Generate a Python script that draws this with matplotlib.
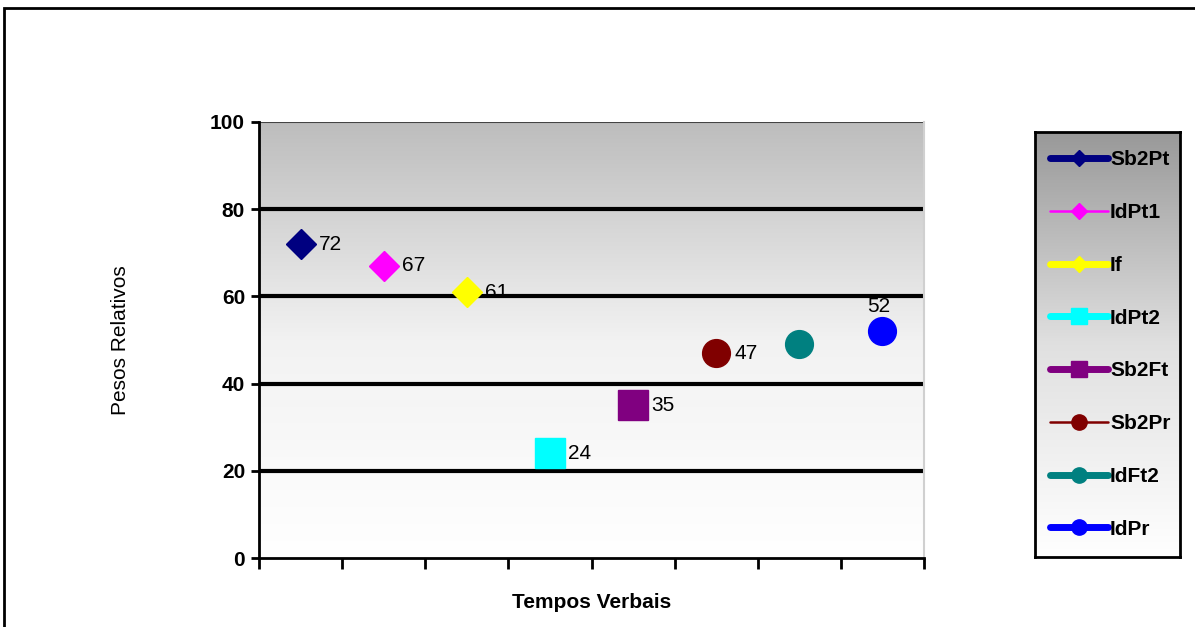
import numpy as np
import matplotlib
matplotlib.use("Agg")
from matplotlib import pyplot as plt
from matplotlib.lines import Line2D
from matplotlib.patches import Rectangle

plt.rcParams['font.family'] = ['Liberation Sans', 'DejaVu Sans']

# data
series = ["Sb2Pt", "IdPt1", "If", "IdPt2", "Sb2Ft", "Sb2Pr", "IdFt2", "IdPr"]
values = [72, 67, 61, 24, 35, 47, 49, 52]
labels = ["72", "67", "61", "24", "35", "47", "", "52"]
colors = ["#000080", "#FF00FF", "#FFFF00", "#00FFFF", "#800080", "#800000", "#008080", "#0000FF"]
markers = ["D", "D", "D", "s", "s", "o", "o", "o"]
yticks = [0, 20, 40, 60, 80, 100]

W, H = 1195, 627
fig = plt.figure(figsize=(W / 100, H / 100), dpi=100)

# outer frame
fig.patches.append(Rectangle((4 / W, -0.2), 1.2, (H - 8) / H + 0.2, transform=fig.transFigure,
                             fill=False, edgecolor="black", linewidth=2))

ax = fig.add_axes([259 / W, 1 - 558 / H, (924 - 259) / W, (558 - 122) / H])
grad = np.linspace(1.0, 0.0, 256).reshape(-1, 1)
ax.imshow(grad, extent=[0, 1, 0, 1], transform=ax.transAxes, cmap=matplotlib.colors.LinearSegmentedColormap.from_list(
    "g", ["#ffffff", "#f2f2f2", "#bdbdbd"]), aspect="auto", zorder=0)

x = np.arange(len(series))
sizes = {"D": 15, "s": 22, "o": 20}
for i in range(len(series)):
    ax.plot(x[i], values[i], marker=markers[i], color=colors[i], markersize=sizes[markers[i]],
            linestyle="none", zorder=4)
    if labels[i]:
        if series[i] == "IdPr":
            ax.annotate(labels[i], (x[i], values[i]), xytext=(-3, 11), textcoords="offset points",
                        ha="center", va="bottom", fontsize=15, zorder=5)
        else:
            ax.annotate(labels[i], (x[i], values[i]), xytext=(13, 0), textcoords="offset points",
                        ha="left", va="center", fontsize=15, zorder=5)

for y in [20, 40, 60, 80]:
    ax.axhline(y, color="black", linewidth=3, zorder=2)
ax.axhline(100, color="#444444", linewidth=1.5, zorder=2)

ax.set_xlim(-0.5, len(series) - 0.5)
ax.set_ylim(0, 100)
ax.set_yticks(yticks)
ax.set_yticklabels([str(v) for v in yticks], fontsize=15, fontweight="bold")
ax.set_xticks(np.arange(-0.5, len(series)))
ax.set_xticklabels([])
ax.tick_params(axis="y", direction="out", length=6, width=2, pad=4)
ax.tick_params(axis="x", direction="out", length=8, width=2)
ax.spines["top"].set_visible(False)
ax.spines["right"].set_color("#d0d0d0")
ax.spines["right"].set_linewidth(1.5)
ax.spines["left"].set_linewidth(2)
ax.spines["bottom"].set_linewidth(2)

ax.set_ylabel("Pesos Relativos", fontsize=15, labelpad=58)
ax.set_xlabel("Tempos Verbais", fontsize=15, fontweight="bold", labelpad=14)

# legend box with gradient
lax = fig.add_axes([1035 / W, 1 - 557 / H, (1180 - 1035) / W, (557 - 132) / H])
lax.imshow(grad, extent=[0, 1, 0, 1], transform=lax.transAxes, cmap=matplotlib.colors.LinearSegmentedColormap.from_list(
    "g2", ["#ffffff", "#e0e0e0", "#999999"]), aspect="auto", zorder=0)
lax.set_xlim(0, 1)
lax.set_ylim(0, 1)
lax.set_xticks([])
lax.set_yticks([])
for s in lax.spines.values():
    s.set_linewidth(2)

thin = ["IdPt1", "Sb2Pr"]
handles = []
for i in range(len(series)):
    lw = 1.8 if series[i] in thin else 5
    handles.append(Line2D([0], [0], color=colors[i], linewidth=lw, marker=markers[i],
                          markersize=11 if markers[i] != "D" else 8, solid_capstyle="round"))
leg = lax.legend(handles, series, loc="center left", bbox_to_anchor=(0.0, 0.5), frameon=False,
                 prop={"weight": "bold", "size": 15}, handlelength=2.8, handletextpad=0.1,
                 labelspacing=1.62, borderaxespad=0.3)

fig.savefig("out.png", dpi=100)
